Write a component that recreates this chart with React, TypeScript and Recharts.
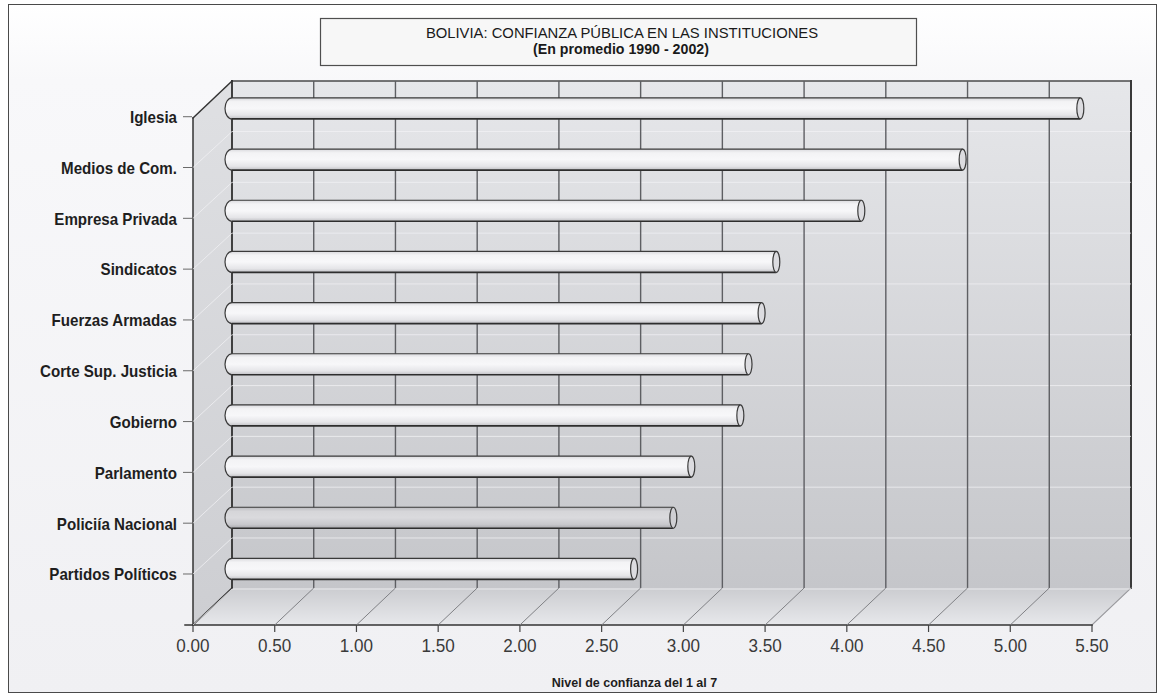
import { BarChart, Bar, XAxis, YAxis, CartesianGrid } from 'recharts';

// Confianza promedio 1990-2002, escala 1 a 7
const categories = [
  'Iglesia',
  'Medios de Com.',
  'Empresa Privada',
  'Sindicatos',
  'Fuerzas Armadas',
  'Corte Sup. Justicia',
  'Gobierno',
  'Parlamento',
  'Policiía Nacional',
  'Partidos Políticos',
];
const confidence = [5.19, 4.47, 3.85, 3.33, 3.24, 3.16, 3.11, 2.81, 2.7, 2.46];
const xTicks = [0, 0.5, 1, 1.5, 2, 2.5, 3, 3.5, 4, 4.5, 5, 5.5];

const TITLE = 'BOLIVIA: CONFIANZA PÚBLICA EN LAS INSTITUCIONES';
const SUBTITLE = '(En promedio 1990 - 2002)';
const X_TITLE = 'Nivel de confianza del 1 al 7';
const HIGHLIGHTED = 'Policiía Nacional';

const data = categories.map((name, i) => ({ name, value: confidence[i] }));

// pseudo-3D box: front plane + depth offset
const W = 1161;
const H = 698;
const FRONT_LEFT = 193;
const BACK_TOP = 81;
const FLOOR_Y = 625;
const BACK_RIGHT = 1131;
const DX = 39;
const DY = 37;
const BACK_LEFT = FRONT_LEFT + DX;
const BACK_BOTTOM = FLOOR_Y - DY;
const FRONT_RIGHT = BACK_RIGHT - DX;
const FRONT_TOP = BACK_TOP + DY;
const FONT = '"Liberation Sans", Arial, sans-serif';

function Backdrop() {
  return (
    <svg width={W} height={H} style={{ position: 'absolute', left: 0, top: 0 }}>
      <defs>
        <linearGradient id="pageBg" x1="0" y1="0" x2="0" y2="1">
          <stop offset="0" stopColor="#ffffff" />
          <stop offset="0.11" stopColor="#f8f8fa" />
          <stop offset="1" stopColor="#f0f0f3" />
        </linearGradient>
        <linearGradient id="backWall" x1="0" y1="0" x2="0" y2="1">
          <stop offset="0" stopColor="#e6e7ea" />
          <stop offset="1" stopColor="#c5c6ca" />
        </linearGradient>
        <linearGradient id="sideWall" x1="0" y1="0" x2="0" y2="1">
          <stop offset="0" stopColor="#dfe0e3" />
          <stop offset="1" stopColor="#cdced2" />
        </linearGradient>
        <linearGradient id="floorFill" gradientUnits="userSpaceOnUse" x1="0" y1={BACK_BOTTOM} x2="0" y2={FLOOR_Y}>
          <stop offset="0" stopColor="#cbccd0" />
          <stop offset="1" stopColor="#e7e8eb" />
        </linearGradient>
        <linearGradient id="cyl" x1="0" y1="0" x2="0" y2="1">
          <stop offset="0" stopColor="#d9d9dd" />
          <stop offset="0.18" stopColor="#f3f3f5" />
          <stop offset="0.5" stopColor="#f7f7f9" />
          <stop offset="0.82" stopColor="#e5e5e8" />
          <stop offset="1" stopColor="#c0c0c4" />
        </linearGradient>
        <linearGradient id="cylDark" x1="0" y1="0" x2="0" y2="1">
          <stop offset="0" stopColor="#bcbcc0" />
          <stop offset="0.2" stopColor="#d6d6d9" />
          <stop offset="0.5" stopColor="#dadadd" />
          <stop offset="0.82" stopColor="#c8c8cc" />
          <stop offset="1" stopColor="#a8a8ac" />
        </linearGradient>
      </defs>

      <rect x={8.5} y={4.5} width={1148} height={688} fill="url(#pageBg)" stroke="#4a4a4a" />

      <rect x={320.5} y={18.5} width={596} height={47} fill="#f7f7f7" stroke="#4f4f4f" strokeWidth={1.2} />
      <text x={622} y={33} textAnchor="middle" dominantBaseline="central" fontSize={14.8} fill="#1a1a1a" fontFamily={FONT}>
        {TITLE}
      </text>
      <text x={621} y={49} textAnchor="middle" dominantBaseline="central" fontSize={14.2} fontWeight="bold" fill="#1a1a1a" fontFamily={FONT}>
        {SUBTITLE}
      </text>

      <rect x={BACK_LEFT} y={BACK_TOP} width={BACK_RIGHT - BACK_LEFT} height={BACK_BOTTOM - BACK_TOP} fill="url(#backWall)" />
      <polygon
        points={`${FRONT_LEFT},${FRONT_TOP} ${BACK_LEFT},${BACK_TOP} ${BACK_LEFT},${BACK_BOTTOM} ${FRONT_LEFT},${FLOOR_Y}`}
        fill="url(#sideWall)"
      />
      <polygon
        points={`${FRONT_LEFT},${FLOOR_Y} ${BACK_LEFT},${BACK_BOTTOM} ${BACK_RIGHT},${BACK_BOTTOM} ${FRONT_RIGHT},${FLOOR_Y}`}
        fill="url(#floorFill)"
      />

      <g fill="none" strokeLinecap="square">
        <line x1={BACK_LEFT} y1={BACK_TOP} x2={BACK_RIGHT} y2={BACK_TOP} stroke="#4a4a4a" strokeWidth={1.4} />
        <line x1={BACK_RIGHT} y1={BACK_TOP} x2={BACK_RIGHT} y2={BACK_BOTTOM} stroke="#3a3a3a" strokeWidth={2} />
        <line x1={BACK_LEFT} y1={BACK_TOP} x2={BACK_LEFT} y2={BACK_BOTTOM} stroke="#2f2f2f" strokeWidth={1.8} />
        <line x1={FRONT_LEFT} y1={FRONT_TOP} x2={BACK_LEFT} y2={BACK_TOP} stroke="#333" strokeWidth={1.5} />
        <line x1={FRONT_LEFT} y1={FRONT_TOP} x2={FRONT_LEFT} y2={FLOOR_Y} stroke="#333" strokeWidth={1.5} />
        <line x1={FRONT_LEFT} y1={FLOOR_Y} x2={BACK_LEFT} y2={BACK_BOTTOM} stroke="#333" strokeWidth={1.5} />
        <line x1={FRONT_RIGHT} y1={FLOOR_Y} x2={BACK_RIGHT} y2={BACK_BOTTOM} stroke="#9a9a9e" strokeWidth={1.2} />
        <line x1={FRONT_LEFT - 8} y1={FLOOR_Y} x2={FRONT_RIGHT} y2={FLOOR_Y} stroke="#333" strokeWidth={1.5} />
      </g>
    </svg>
  );
}

// value lines on the back wall and their projection across the floor
function gridVertical(props: any) {
  const { x1, y1, y2, index } = props;
  if (!(x1 > BACK_LEFT + 1 && x1 < BACK_RIGHT - 1)) return <g key={`v-${index}`} />;
  return (
    <g key={`v-${index}`}>
      <line x1={x1} y1={y1} x2={x1} y2={y2 - DY} stroke="#5e5f63" strokeWidth={1.4} />
      <line x1={x1 - DX} y1={y2} x2={x1} y2={y2 - DY} stroke="#808185" strokeWidth={1} />
    </g>
  );
}

// faint category lines: across the side wall and along the back wall
function gridHorizontal(props: any) {
  const { x1, x2, y1, index } = props;
  const yb = y1 - DY + 1;
  if (yb < BACK_TOP + 4) return <g key={`h-${index}`} />;
  return (
    <g key={`h-${index}`} stroke="#f2f2f4" strokeOpacity={0.75} strokeWidth={1}>
      <line x1={x1} y1={y1} x2={x1 + DX} y2={yb} />
      <line x1={x1 + DX} y1={yb} x2={x2} y2={yb} />
    </g>
  );
}

function FrontTick(props: any) {
  const { x, payload } = props;
  return (
    <g>
      <line x1={x} y1={FLOOR_Y} x2={x} y2={FLOOR_Y + 7} stroke="#444" strokeWidth={1.2} />
      <text
        transform={`translate(${x},${FLOOR_Y + 21}) scale(0.9,1)`}
        textAnchor="middle"
        dominantBaseline="central"
        fontSize={19}
        fill="#3a3a3a"
        fontFamily={FONT}
      >
        {Number(payload.value).toFixed(2)}
      </text>
    </g>
  );
}

function LabelTick(props: any) {
  const { y, payload } = props;
  return (
    <g>
      <line x1={FRONT_LEFT - 10} y1={y} x2={FRONT_LEFT - 1} y2={y} stroke="#6a6a6a" strokeWidth={1} />
      <text
        transform={`translate(${FRONT_LEFT - 16},${y}) scale(0.89,1)`}
        textAnchor="end"
        dominantBaseline="central"
        fontSize={17}
        fontWeight="bold"
        fill="#1e1e1e"
        fontFamily={FONT}
      >
        {payload.value}
      </text>
    </g>
  );
}

function AxisTitle() {
  return (
    <text
      x={634.5}
      y={FLOOR_Y + 58}
      textAnchor="middle"
      dominantBaseline="central"
      fontSize={12.5}
      fontWeight="bold"
      fill="#1e1e1e"
      fontFamily={FONT}
    >
      {X_TITLE}
    </text>
  );
}

// horizontal cylinder: rounded left cap, elliptical end face at the value
function Cylinder(props: any) {
  const { x, y, width, height, payload } = props;
  const r = height / 2;
  const end = x + width;
  const dark = payload && payload.name === HIGHLIGHTED;
  const fill = dark ? 'url(#cylDark)' : 'url(#cyl)';
  return (
    <g>
      <path
        d={`M${x},${y} L${end},${y} L${end},${y + height} L${x},${y + height} A7,${r} 0 0 1 ${x},${y} Z`}
        fill={fill}
      />
      <path
        d={`M${end},${y} L${x},${y} M${x},${y + height} A7,${r} 0 0 1 ${x},${y}`}
        fill="none"
        stroke="#3a3a3a"
        strokeWidth={1.2}
      />
      <line x1={x} y1={y + height} x2={end} y2={y + height} stroke="#2e2e2e" strokeWidth={1.7} />
      <ellipse cx={end} cy={y + r} rx={3.5} ry={r} fill={dark ? '#cfcfd3' : '#dcdce0'} stroke="#3a3a3a" strokeWidth={1.2} />
    </g>
  );
}

export default function App() {
  return (
    <div style={{ position: 'absolute', left: 0, top: 0, width: W, height: H, fontFamily: FONT, background: '#fff' }}>
      <Backdrop />
      <div style={{ position: 'absolute', left: 0, top: 0 }}>
        <BarChart
          width={W}
          height={H}
          data={data}
          layout="vertical"
          margin={{ top: BACK_TOP, right: W - BACK_RIGHT, bottom: 0, left: 8 }}
        >
          <CartesianGrid xAxisId="back" yAxisId="labels" vertical={gridVertical} horizontal={gridHorizontal} />
          <XAxis
            xAxisId="back"
            type="number"
            dataKey="value"
            domain={[0, 5.5]}
            ticks={xTicks}
            hide
            height={0}
            padding={{ left: DX, right: 0 }}
          />
          <XAxis
            xAxisId="front"
            type="number"
            dataKey="value"
            domain={[0, 5.5]}
            allowDataOverflow
            ticks={xTicks}
            interval={0}
            height={H - FLOOR_Y}
            padding={{ left: 0, right: DX }}
            axisLine={false}
            tickLine={false}
            tick={(p: any) => <FrontTick {...p} />}
            label={{ content: () => <AxisTitle /> }}
          />
          <YAxis yAxisId="bars" type="category" dataKey="name" hide width={0} padding={{ top: 1.9, bottom: 30.4 }} />
          <YAxis
            yAxisId="labels"
            type="category"
            dataKey="name"
            width={FRONT_LEFT - 8}
            interval={0}
            padding={{ top: 10.3, bottom: 25.6 }}
            axisLine={false}
            tickLine={false}
            tick={(p: any) => <LabelTick {...p} />}
          />
          <Bar
            dataKey="value"
            xAxisId="back"
            yAxisId="bars"
            barSize={21}
            shape={(p: any) => <Cylinder {...p} />}
            isAnimationActive={false}
          />
        </BarChart>
      </div>
    </div>
  );
}
